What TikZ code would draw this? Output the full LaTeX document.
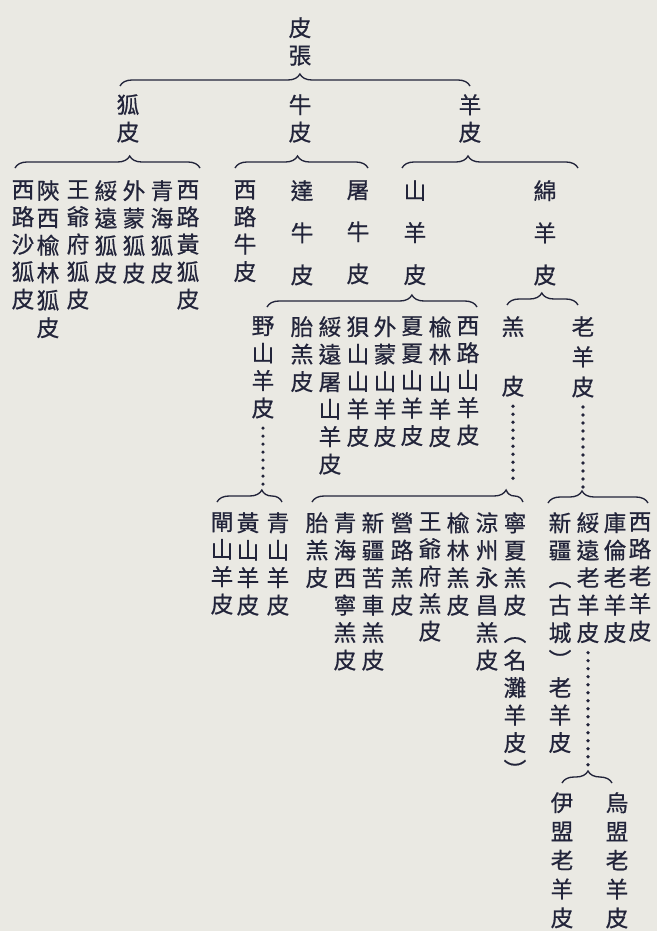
\documentclass[tikz,border=0pt]{standalone}
\usepackage{fontspec}
\newfontfamily\cjk[FakeBold=0.7]{Noto Sans CJK TC}
\usetikzlibrary{decorations.pathreplacing}
\definecolor{ink}{HTML}{22243A}
\definecolor{paper}{HTML}{EAE9E3}
\tikzset{
  col/.style={anchor=north, align=center, inner sep=0pt, text=ink, font=\cjk\fontsize{17}{20.6}\selectfont},
  brc/.style={draw=ink, line width=1pt, decorate, decoration={brace, amplitude=9pt, aspect=#1}},
  dotline/.style={draw=ink, line width=2.7pt, line cap=round, dash pattern=on 0pt off 6pt, shorten <=7pt}
}
\begin{document}
\begin{tikzpicture}[x=0.75pt,y=-0.75pt]
\fill[paper] (0,0) rectangle (657,931);
\useasboundingbox (0,0) rectangle (657,931);
\node[col] (pizhang) at (300,17) {皮\\張};
\node[col] (hupi) at (128,94) {狐\\皮};
\node[col] (niupi) at (300,94) {牛\\皮};
\node[col] (yangpi) at (470,94) {羊\\皮};
\coordinate (b0l) at (120,86);
\coordinate (b0r) at (470,86);
\draw[brc=0.514] (b0l) -- (b0r);
\node[col] (hu1) at (23,180) {西\\路\\沙\\狐\\皮};
\node[col] (hu2) at (48,180) {陝\\西\\楡\\林\\狐\\皮};
\node[col] (hu3) at (78,180) {王\\爺\\府\\狐\\皮};
\node[col] (hu4) at (106,180) {綏\\遠\\狐\\皮};
\node[col] (hu5) at (134,180) {外\\蒙\\狐\\皮};
\node[col] (hu6) at (162,180) {青\\海\\狐\\皮};
\node[col] (hu7) at (188,180) {西\\路\\黃\\狐\\皮};
\coordinate (bhul) at (15,168);
\coordinate (bhur) at (200,168);
\draw[brc=0.62] (bhul) -- (bhur);
\node[col] (niu1) at (245,180) {西\\路\\牛\\皮};
\node[col] (niu2) at (302,180) {達\\[11pt]牛\\[11pt]皮};
\node[col] (niu3) at (358,180) {屠\\[11pt]牛\\[11pt]皮};
\coordinate (bniul) at (235,168);
\coordinate (bniur) at (368,168);
\draw[brc=0.47] (bniul) -- (bniur);
\node[col] (shanyang) at (415,180) {山\\[11pt]羊\\[11pt]皮};
\node[col] (mianyang) at (545,180) {綿\\[11pt]羊\\[11pt]皮};
\coordinate (byangl) at (402,168);
\coordinate (byangr) at (578,168);
\draw[brc=0.375] (byangl) -- (byangr);
\node[col] (yeshan) at (263,316) {野\\山\\羊\\皮};
\node[col] (sh1) at (302,316) {胎\\羔\\皮};
\node[col] (sh2) at (330,316) {綏\\遠\\屠\\山\\羊\\皮};
\node[col] (sh3) at (358,316) {狽\\山\\山\\羊\\皮};
\node[col] (sh4) at (385,316) {外\\蒙\\山\\羊\\皮};
\node[col] (sh5) at (412,316) {夏\\夏\\山\\羊\\皮};
\node[col] (sh6) at (440,316) {楡\\林\\山\\羊\\皮};
\node[col] (sh7) at (468,316) {西\\路\\山\\羊\\皮};
\coordinate (bshanl) at (267,307);
\coordinate (bshanr) at (477,307);
\draw[brc=0.69] (bshanl) -- (bshanr);
\node[col] (gaopi) at (513,316) {羔\\[24pt]皮};
\node[col] (laoyang) at (583,316) {老\\[2pt]羊\\[2pt]皮};
\coordinate (bmianl) at (507,305);
\coordinate (bmianr) at (578,305);
\draw[brc=0.49] (bmianl) -- (bmianr);
\node[col] (ye1) at (222,512) {閘\\山\\羊\\皮};
\node[col] (ye2) at (248,512) {黃\\山\\羊\\皮};
\node[col] (ye3) at (278,512) {青\\山\\羊\\皮};
\coordinate (byel) at (217,502);
\coordinate (byer) at (282,502);
\draw[brc=0.69] (byel) -- (byer);
\coordinate (dye) at (263,488);
\draw[dotline] (yeshan.south) -- (dye);
\node[col] (gao1) at (317,512) {胎\\羔\\皮};
\node[col] (gao2) at (345,512) {青\\海\\西\\寧\\羔\\皮};
\node[col] (gao3) at (373,512) {新\\疆\\苦\\車\\羔\\皮};
\node[col] (gao4) at (402,512) {營\\路\\羔\\皮};
\node[col] (gao5) at (430,512) {王\\爺\\府\\羔\\皮};
\node[col] (gao6) at (458,512) {楡\\林\\羔\\皮};
\node[col] (gao7) at (487,512) {涼\\州\\永\\昌\\羔\\皮};
\node[col] (gao8) at (515,512) {寧\\夏\\羔\\皮\\︵\\名\\灘\\羊\\皮\\︶};
\coordinate (bgaol) at (312,502);
\coordinate (bgaor) at (523,502);
\draw[brc=0.92] (bgaol) -- (bgaor);
\coordinate (dgao) at (513,480);
\draw[dotline] (gaopi.south) -- (dgao);
\node[col] (lao1) at (560,512) {新\\疆\\︵\\古\\城\\︶\\老\\羊\\皮};
\node[col] (lao2) at (588,512) {綏\\遠\\老\\羊\\皮};
\node[col] (lao3) at (615,512) {庫\\倫\\老\\羊\\皮};
\node[col] (lao4) at (640,512) {西\\路\\老\\羊\\皮};
\coordinate (blaol) at (548,503);
\coordinate (blaor) at (648,503);
\draw[brc=0.34] (blaol) -- (blaor);
\coordinate (dlao) at (583,488);
\draw[dotline] (laoyang.south) -- (dlao);
\node[col] (wu1) at (562,792) {伊\\[1pt]盟\\[1pt]老\\[1pt]羊\\[1pt]皮};
\node[col] (wu2) at (617,792) {烏\\[1pt]盟\\[1pt]老\\[1pt]羊\\[1pt]皮};
\coordinate (bwul) at (562,783);
\coordinate (bwur) at (612,783);
\draw[brc=0.52] (bwul) -- (bwur);
\coordinate (dwu) at (588,768);
\draw[dotline] (lao2.south) -- (dwu);
\end{tikzpicture}
\end{document}
